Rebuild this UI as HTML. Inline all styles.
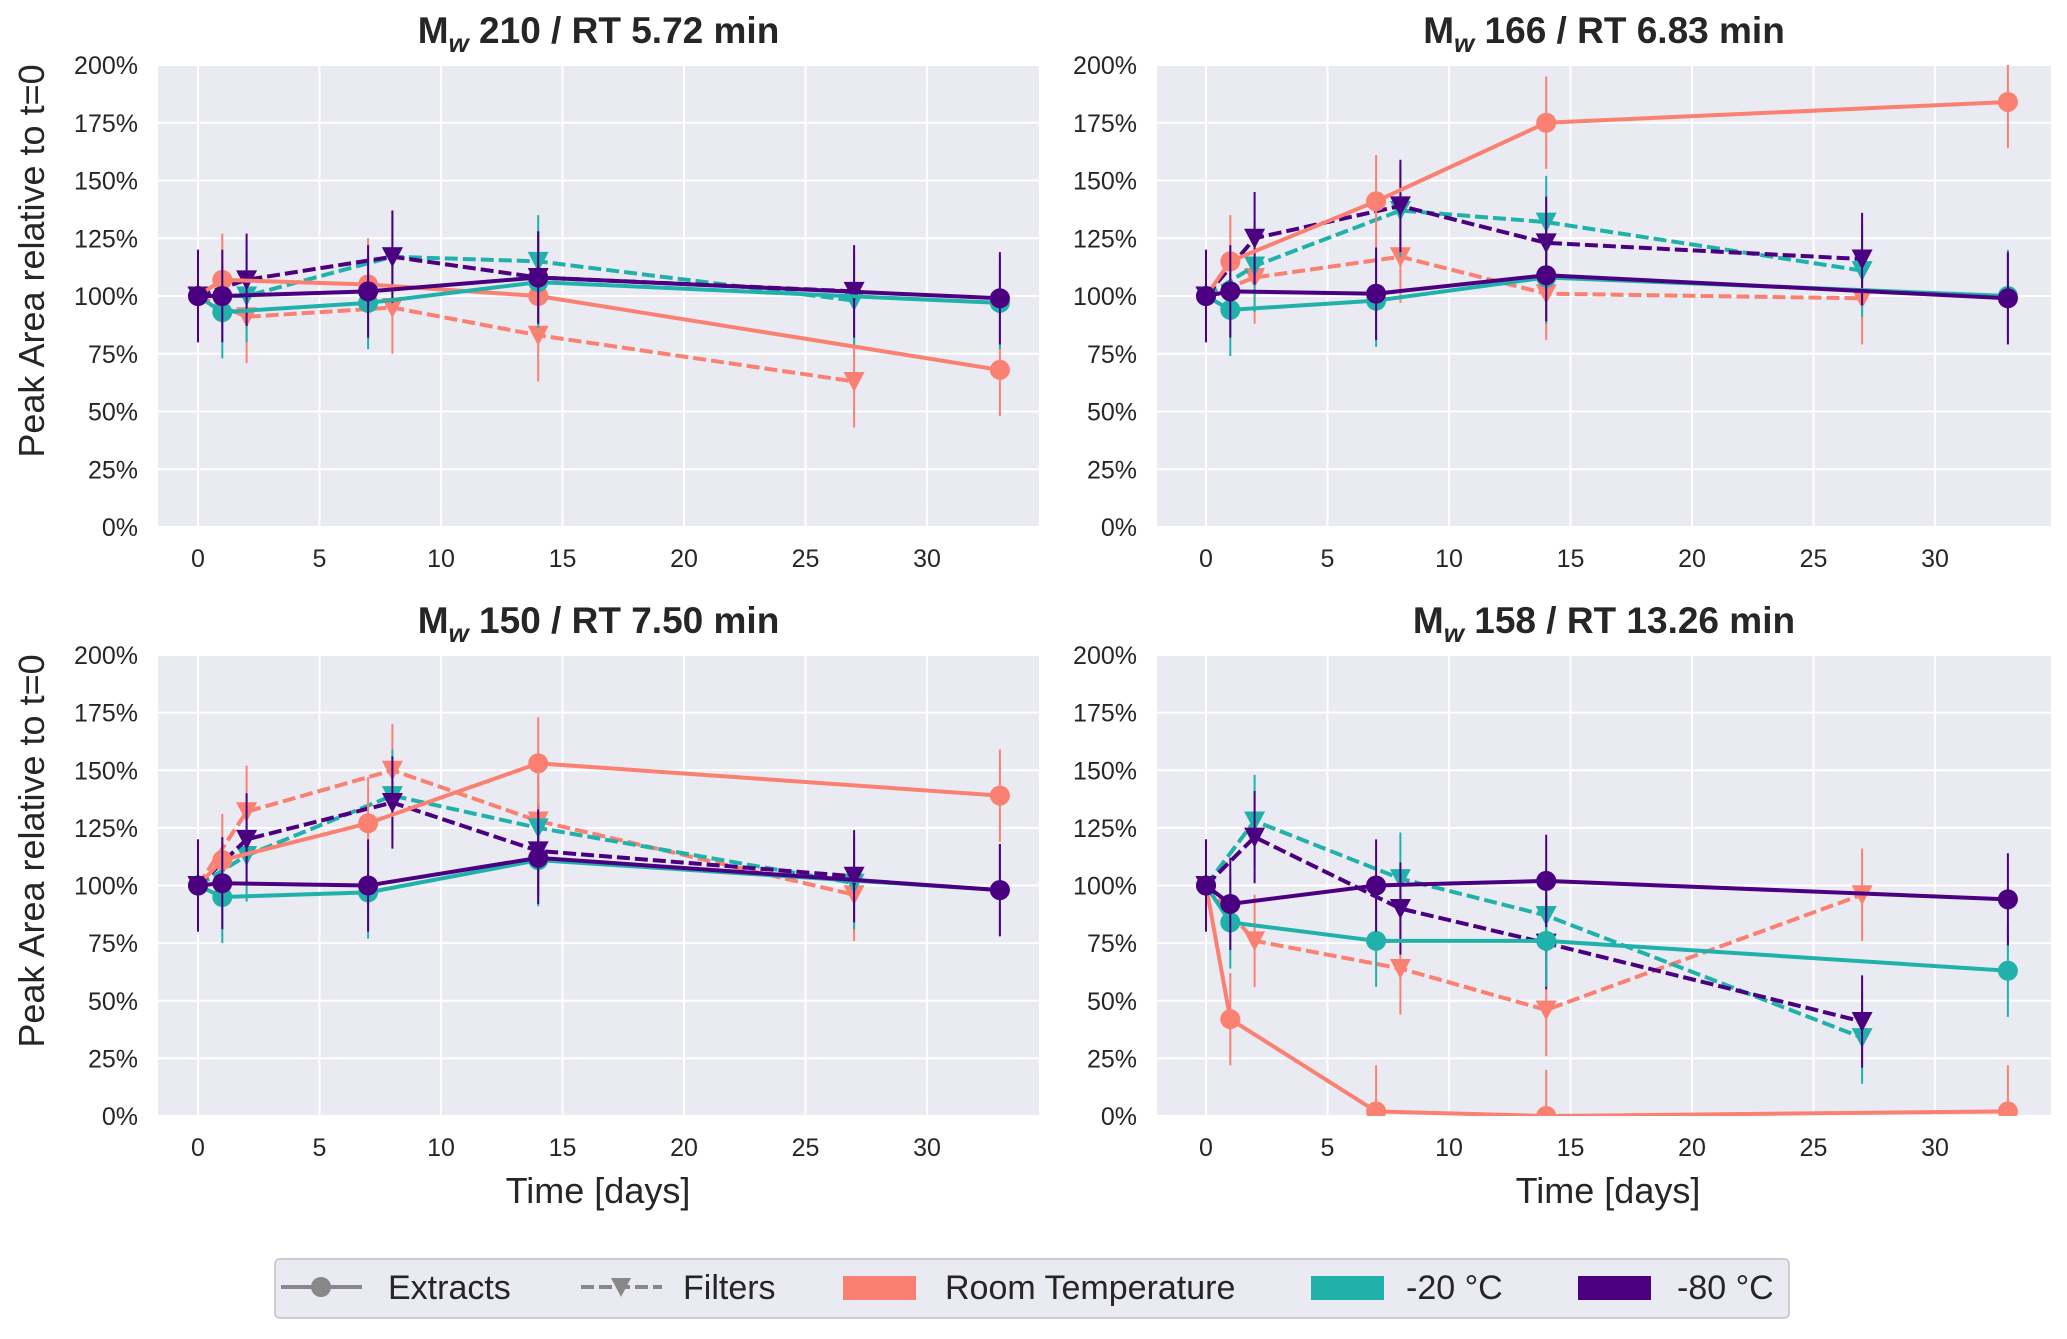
<!DOCTYPE html>
<html><head><meta charset="utf-8"><style>
body{margin:0;background:#fff}
svg{display:block;font-family:"Liberation Sans",Arial,sans-serif}
</style></head><body>
<svg id="fig" width="2067" height="1339" viewBox="0 0 2067 1339"></svg>
<script>
const extractDays=[0,1,7,14,33];
const filterDays=[0,2,8,14,27];
const titles=["210 / RT 5.72 min","166 / RT 6.83 min","150 / RT 7.50 min","158 / RT 13.26 min"];
const rtExt=[[100,107,105,100,68],[100,115,141,175,184],[100,111,127,153,139],[100,42,2,0,2]];
const m20Ext=[[100,93,97,106,97],[100,94,98,108,100],[100,95,97,111,98],[100,84,76,76,63]];
const m80Ext=[[100,100,102,108,99],[100,102,101,109,99],[100,101,100,112,98],[100,92,100,102,94]];
const rtFil=[[100,91,95,83,63],[100,108,117,101,99],[100,132,150,128,96],[100,76,64,46,96]];
const m20Fil=[[100,100,117,115,98],[100,113,137,132,111],[100,113,139,125,101],[100,128,103,87,34]];
const m80Fil=[[100,107,117,108,102],[100,125,139,123,116],[100,120,136,115,104],[100,121,90,75,41]];
const errPct=20;
const yTicks=[0,25,50,75,100,125,150,175,200];
const xTicks=[0,5,10,15,20,25,30];
const COL={rt:"#FA8072",m20:"#20B2AA",m80:"#4B0082"};
const NS="http://www.w3.org/2000/svg";
const svg=document.getElementById('fig');
function mk(tag,attrs,parent){const e=document.createElementNS(NS,tag);for(const k in attrs)e.setAttribute(k,attrs[k]);(parent||svg).appendChild(e);return e;}
const panels=[{x0:158,x1:1039,y0:65,y1:527},{x0:1157,x1:2051,y0:65,y1:527},{x0:158,x1:1039,y0:655,y1:1116},{x0:1157,x1:2051,y0:655,y1:1116}];
const zeroX=[198,1206,198,1206];
const pxDay=24.3;
const defs=mk('defs',{});
panels.forEach((p,i)=>{
  const cp=mk('clipPath',{id:'clip'+i},defs);
  mk('rect',{x:p.x0,y:p.y0,width:p.x1-p.x0,height:p.y1-p.y0},cp);
  const g=mk('g',{});
  
  
  const X=d=>zeroX[i]+d*pxDay;
  const Y=v=>p.y1-(v/200)*(p.y1-p.y0);
  const bg=mk('rect',{x:p.x0,y:p.y0,width:p.x1-p.x0,height:p.y1-p.y0,fill:"#EAEAF2"},g);
  
  
  yTicks.forEach(t=>{
    mk('line',{x1:p.x0,x2:p.x1,y1:Y(t),y2:Y(t),stroke:"#fff","stroke-width":2},g);
    const tl=mk('text',{x:p.x0-20,y:Y(t)+9,"text-anchor":"end","font-size":25,fill:"#262626"},g);
    tl.textContent=t+'%';
    
    
  });
  xTicks.forEach(t=>{
    mk('line',{x1:X(t),x2:X(t),y1:p.y0,y2:p.y1,stroke:"#fff","stroke-width":2},g);
    const tl=mk('text',{x:X(t),y:p.y1+40,"text-anchor":"middle","font-size":25,fill:"#262626"},g);
    tl.textContent=t;
    
    
  });
  const tt=mk('text',{x:(p.x0+p.x1)/2,y:p.y0-22,"text-anchor":"middle","font-size":37,"font-weight":"bold",fill:"#262626"},g);
  tt.innerHTML='M<tspan font-style="italic" font-size="26" dy="9">w</tspan><tspan dy="-9"> '+titles[i]+'</tspan>';
  
  
  const dg=mk('g',{'clip-path':`url(#clip${i})`},g);
  const series=[
    [rtFil[i],filterDays,COL.rt,true],[m20Fil[i],filterDays,COL.m20,true],[m80Fil[i],filterDays,COL.m80,true],
    [rtExt[i],extractDays,COL.rt,false],[m20Ext[i],extractDays,COL.m20,false],[m80Ext[i],extractDays,COL.m80,false]];
  series.forEach(([vals,days,c,dash])=>{
    const sg=mk('g',{},dg);
    
    
    vals.forEach((v,k)=>{
      mk('line',{x1:X(days[k]),x2:X(days[k]),y1:Y(v-errPct),y2:Y(v+errPct),stroke:c,"stroke-width":2},sg);
    });
    const pl=mk('polyline',{points:vals.map((v,k)=>X(days[k])+','+Y(v)).join(' '),fill:"none",stroke:c,"stroke-width":4},sg);
    if(dash) pl.setAttribute('stroke-dasharray','13,5');
    vals.forEach((v,k)=>{
      const x=X(days[k]),y=Y(v);
      let m;
      if(dash) m=mk('path',{d:`M${x-10.5},${y-9.5} L${x+10.5},${y-9.5} L${x},${y+10.5} Z`,fill:c},sg);
      else m=mk('circle',{cx:x,cy:y,r:10,fill:c},sg);
      
      
    });
  });
});
[[261],[851]].forEach(([cy])=>{
  const t=mk('text',{x:0,y:0,transform:`translate(44,${cy}) rotate(-90)`,"text-anchor":"middle","font-size":36,fill:"#262626"});
  t.textContent='Peak Area relative to t=0';
  
  
});
[598,1608].forEach(cx=>{
  const t=mk('text',{x:cx,y:1203,"text-anchor":"middle","font-size":36,fill:"#262626"});
  t.textContent='Time [days]';
  
  
});
const lg=mk('g',{});


mk('rect',{x:275,y:1259,width:1514,height:59,rx:5,fill:"#EAEAF2",stroke:"#ccc","stroke-width":2},lg);
const LY=1287;
mk('line',{x1:281,x2:362,y1:LY,y2:LY,stroke:"#888","stroke-width":4},lg);
mk('circle',{cx:321,cy:LY,r:10,fill:"#888"},lg);
mk('line',{x1:581,x2:662,y1:LY,y2:LY,stroke:"#888","stroke-width":4,"stroke-dasharray":"13,5"},lg);
mk('path',{d:`M611,${LY-9} L631,${LY-9} L621,${LY+10} Z`,fill:"#888"},lg);
mk('rect',{x:843,y:LY-11,width:73,height:24,fill:COL.rt},lg);
mk('rect',{x:1311,y:LY-11,width:73,height:24,fill:COL.m20},lg);
mk('rect',{x:1578,y:LY-11,width:73,height:24,fill:COL.m80},lg);
[["Extracts",388],["Filters",683],["Room Temperature",945],["-20 °C",1406],["-80 °C",1677]].forEach(([s,x])=>{
  const t=mk('text',{x:x,y:LY+12,"font-size":34,fill:"#262626"},lg);
  t.textContent=s;
  
  
});
</script>
</body></html>
